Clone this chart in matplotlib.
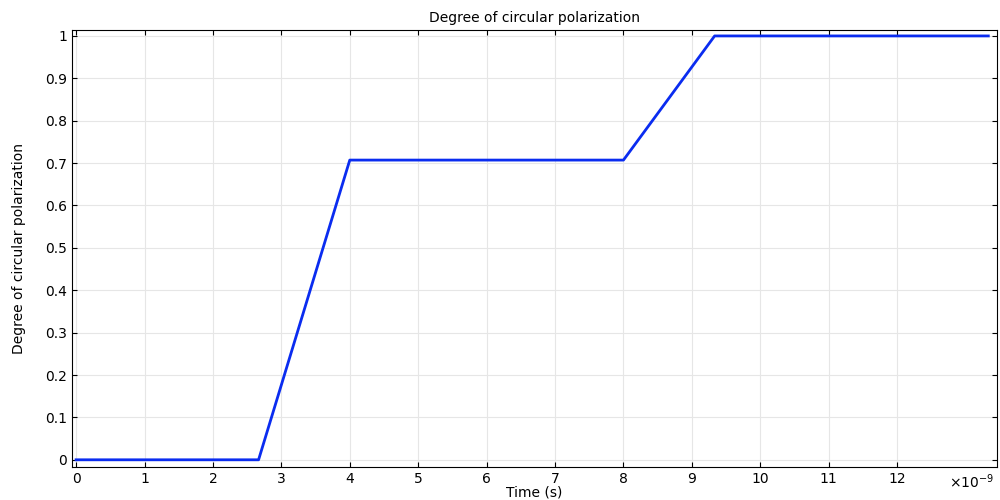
import matplotlib
matplotlib.use('Agg')
import matplotlib.pyplot as plt
import numpy as np

time_ns = [0.0, 2.667, 4.0, 8.0, 9.333, 13.333]
dcp = [0.0, 0.0, 0.7071, 0.7071, 1.0, 1.0]

fig = plt.figure(figsize=(10, 5), dpi=100)
ax = fig.add_axes([0.072, 0.066, 0.925, 0.874])
ax.plot(time_ns, dcp, color='#0a2cf0', linewidth=2)

ax.set_xlim(-0.06, 13.46)
ax.set_ylim(-0.017, 1.014)
ax.set_xticks(np.arange(0, 13, 1))
ax.set_yticks(np.arange(0, 1.01, 0.1))
ax.set_yticklabels(['0'] + [f'{v:.1f}' for v in np.arange(0.1, 1.0, 0.1)] + ['1'])
ax.grid(color='#e6e6e6', linewidth=0.8)
ax.tick_params(direction='in', top=True, right=True, labelsize=10)
ax.set_xlabel('Time (s)', fontsize=10, labelpad=0)
ax.set_ylabel('Degree of circular polarization', fontsize=10, labelpad=14)
ax.set_title('Degree of circular polarization', fontsize=10)
ax.text(0.997, -0.012, '×10$^{-9}$', ha='right', va='top', fontsize=10,
        transform=ax.transAxes)

fig.savefig('out.png')
